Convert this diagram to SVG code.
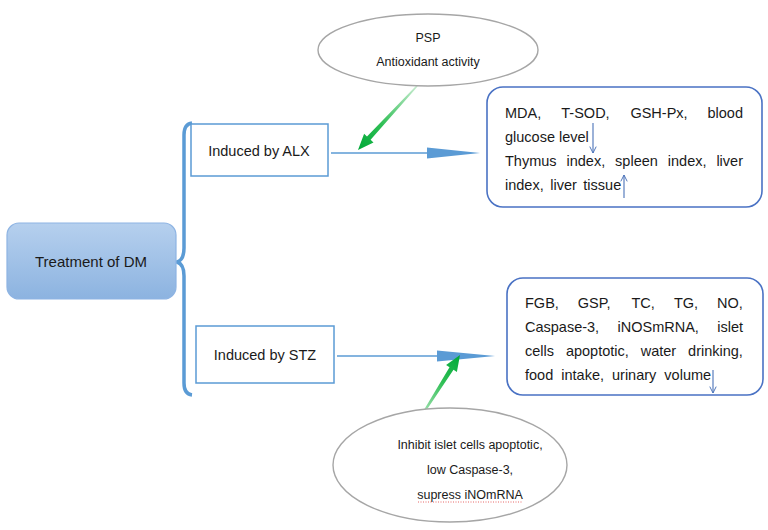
<svg xmlns="http://www.w3.org/2000/svg" width="768" height="530" viewBox="0 0 768 530">
<defs>
<linearGradient id="gDM" x1="0" y1="0" x2="0" y2="1"><stop offset="0" stop-color="#b6d0ee"/><stop offset="1" stop-color="#8cb3e0"/></linearGradient>
<linearGradient id="gT" x1="417" y1="86" x2="358" y2="150" gradientUnits="userSpaceOnUse"><stop offset="0" stop-color="#c8ecd0"/><stop offset="0.6" stop-color="#2fbf55"/><stop offset="1" stop-color="#00a838"/></linearGradient>
<linearGradient id="gB" x1="417" y1="423" x2="460" y2="355" gradientUnits="userSpaceOnUse"><stop offset="0" stop-color="#c8ecd0"/><stop offset="0.6" stop-color="#2fbf55"/><stop offset="1" stop-color="#00a838"/></linearGradient>
<marker id="v" viewBox="0 0 10 10" refX="9" refY="5" markerWidth="8" markerHeight="8" orient="auto" markerUnits="userSpaceOnUse"><path d="M1,1 L9,5 L1,9" fill="none" stroke="#4a72b8" stroke-width="1.2"/></marker>
</defs>
<style>
text{font-family:"Liberation Sans",Arial,sans-serif;fill:#1a1a1a}
.t{font-size:14.5px}
.e{font-size:12.5px}
.box{fill:#fff;stroke:#5b9bd5;stroke-width:1.5}
.rb{fill:#fff;stroke:#4a72c4;stroke-width:1.6}
.ell{fill:#fff;stroke:#a6a6a6;stroke-width:1.4}
.conn{stroke:#5b9bd5;stroke-width:1.5;fill:none}
.head{fill:#5b9bd5}
.sm{stroke:#4a72b8;stroke-width:1.1;fill:none}
</style>
<rect width="768" height="530" fill="#fff"/>

<g id="connectors">
<path d="M192,123 Q184,124 184,135 L184,248 Q184,260 177,262 Q184,264 184,276 L184,383 Q184,394 192,395" fill="none" stroke="#5b9bd5" stroke-width="3.5"/>
<line class="conn" x1="331" y1="153" x2="432" y2="153"/>
<polygon class="head" points="427,147.5 480,153 427,158.5"/>
<line class="conn" x1="337" y1="356" x2="442" y2="356"/>
<polygon class="head" points="437,350.5 495,356 437,361.5"/>
<polygon fill="url(#gT)" points="417.6,86.5 370.6,139.8 373.5,142.6 358,150 364.1,133.8 367.0,136.6 416.4,85.5"/>
<polygon fill="url(#gB)" points="417.6,423.4 453.5,369.8 456.9,371.9 460,355 446.1,365.1 449.5,367.2 416.4,422.6"/>
</g>

<g id="treatment">
<rect x="7" y="223" width="169" height="76" rx="12" fill="url(#gDM)" stroke="#8eb4e3" stroke-width="1.2"/>
<text class="t" x="91" y="267" text-anchor="middle" style="font-size:15px">Treatment of DM</text>
</g>

<g id="alx">
<rect class="box" x="191" y="124" width="137" height="52"/>
<text class="t" x="259" y="156" text-anchor="middle">Induced by ALX</text>
</g>

<g id="stz">
<rect class="box" x="196" y="326" width="138" height="57"/>
<text class="t" x="265" y="360" text-anchor="middle">Induced by STZ</text>
</g>

<g id="psp">
<ellipse class="ell" cx="428" cy="50" rx="110" ry="36"/>
<text class="e" x="428" y="42" text-anchor="middle">PSP</text>
<text class="e" x="428" y="66" text-anchor="middle">Antioxidant activity</text>
</g>

<g id="inhibit">
<ellipse class="ell" cx="450" cy="465" rx="117" ry="57"/>
<text class="e" x="470" y="449" text-anchor="middle">Inhibit islet cells apoptotic,</text>
<text class="e" x="470" y="474" text-anchor="middle">low Caspase-3,</text>
<text class="e" x="470" y="499" text-anchor="middle">supress iNOmRNA</text>
<line x1="418" y1="502" x2="522" y2="502" stroke="#e04040" stroke-width="0.8" stroke-dasharray="1,1.5"/>
</g>

<g id="alx-result">
<rect class="rb" x="487" y="87" width="275" height="120" rx="16"/>
<text class="t" y="118"><tspan x="505">MDA,</tspan><tspan x="561.3">T-SOD,</tspan><tspan x="630.4">GSH-Px,</tspan><tspan x="707.5">blood</tspan></text>
<text class="t" x="505" y="142">glucose level</text>
<text class="t" y="166"><tspan x="505">Thymus</tspan><tspan x="566.5">index,</tspan><tspan x="615.1">spleen</tspan><tspan x="667.8">index,</tspan><tspan x="716.4">liver</tspan></text>
<text class="t" x="505" y="190" style="word-spacing:2.5px">index, liver tissue</text>
<line class="sm" x1="593" y1="123" x2="593" y2="153" marker-end="url(#v)"/>
<line class="sm" x1="624" y1="198" x2="624" y2="175" marker-end="url(#v)"/>
</g>

<g id="stz-result">
<rect class="rb" x="507" y="278" width="256" height="117" rx="16"/>
<text class="t" y="308"><tspan x="525">FGB,</tspan><tspan x="577.8">GSP,</tspan><tspan x="631.5">TC,</tspan><tspan x="673.9">TG,</tspan><tspan x="717.1">NO,</tspan></text>
<text class="t" y="332"><tspan x="525">Caspase-3,</tspan><tspan x="617.5">iNOSmRNA,</tspan><tspan x="717.2">islet</tspan></text>
<text class="t" y="356"><tspan x="525">cells</tspan><tspan x="565.9">apoptotic,</tspan><tspan x="640.7">water</tspan><tspan x="688.1">drinking,</tspan></text>
<text class="t" x="525" y="380" style="word-spacing:4px">food intake, urinary volume</text>
<line class="sm" x1="713" y1="370" x2="713" y2="393" marker-end="url(#v)"/>
</g>
</svg>
